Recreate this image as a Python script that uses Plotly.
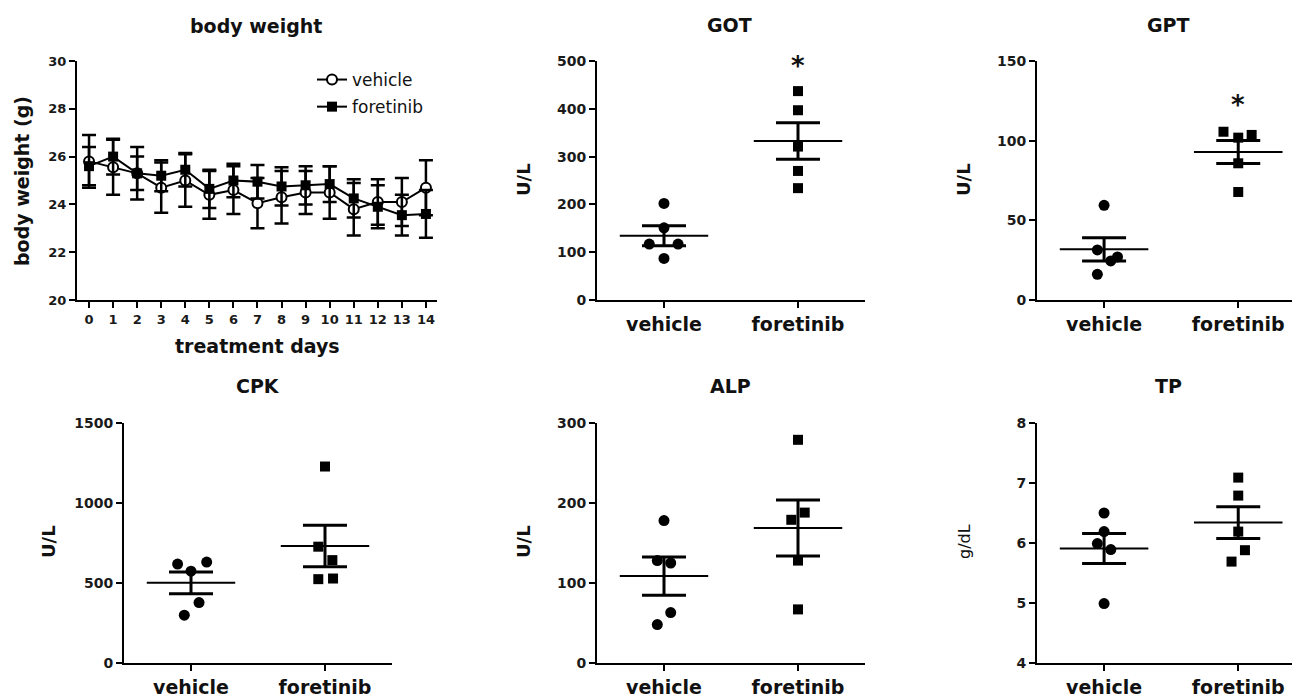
import plotly.graph_objects as go

W, H = 1300, 696
FONT = "DejaVu Sans"

# ---------------- data ----------------
days = list(range(15))
vehicle_bw = [25.8, 25.55, 25.3, 24.7, 25.0, 24.4, 24.6, 24.05, 24.3, 24.5, 24.5, 23.8, 24.1, 24.1, 24.7]
vehicle_bw_err = [1.1, 1.15, 1.1, 1.05, 1.1, 1.0, 1.0, 1.05, 1.1, 0.9, 1.1, 1.1, 0.95, 1.0, 1.15]
foretinib_bw = [25.6, 26.0, 25.3, 25.2, 25.45, 24.65, 25.0, 24.95, 24.75, 24.8, 24.85, 24.25, 23.9, 23.55, 23.6]
foretinib_bw_err = [0.8, 0.75, 0.7, 0.65, 0.7, 0.8, 0.7, 0.7, 0.8, 0.8, 0.75, 0.8, 0.9, 0.85, 1.0]

groups = ["vehicle", "foretinib"]

got_vehicle = [202, 151, 117, 117, 87]
got_foretinib = [437, 397, 321, 270, 234]
got_mean = [134.6, 332.6]
got_sem = [20.9, 38.0]

gpt_vehicle = [59.4, 31.4, 27.0, 24.5, 16.1]
gpt_foretinib = [105.6, 101.9, 103.6, 85.8, 67.8]
gpt_mean = [31.8, 92.9]
gpt_sem = [7.3, 7.2]

cpk_vehicle = [618, 631, 574, 378, 299]
cpk_foretinib = [1228, 727, 643, 524, 528]
cpk_mean = [501, 731]
cpk_sem = [68, 130]

alp_vehicle = [178, 128, 125, 63, 48]
alp_foretinib = [279, 179, 188, 128, 67]
alp_mean = [108.6, 168.8]
alp_sem = [24, 35]

tp_vehicle = [6.50, 6.19, 5.99, 5.89, 4.99]
tp_foretinib = [7.09, 6.79, 6.19, 5.88, 5.69]
tp_mean = [5.91, 6.34]
tp_sem = [0.25, 0.265]

# horizontal scatter offsets (layout only)
got_jit = ([0, 0, -0.11, 0.105, 0], [0, 0, 0, 0, 0])
gpt_jit = ([0, -0.05, 0.1, 0.05, -0.05], [-0.11, 0, 0.1, 0, 0])
cpk_jit = ([-0.1, 0.117, 0, 0.06, -0.05], [0, -0.05, 0.055, -0.05, 0.06])
alp_jit = ([0, -0.05, 0.05, 0.05, -0.05], [0, -0.05, 0.05, 0, 0])
tp_jit = ([0, 0, -0.05, 0.05, 0], [0, 0, 0, 0.05, -0.05])

# ---------------- helpers (screen px -> paper fraction) ----------------
OX, OY, PH = 8, 16, 680

def fx(p):
    return (p - OX) / W

def fy(p):
    return 1 - (p - OY) / PH

fig = go.Figure()

# body weight
fig.add_trace(go.Scatter(
    x=days, y=vehicle_bw, name="vehicle", mode="lines+markers",
    line=dict(color="black", width=2),
    marker=dict(symbol="circle", size=10, color="white", line=dict(color="black", width=2)),
    error_y=dict(type="data", array=vehicle_bw_err, color="black", thickness=2.5, width=7),
    xaxis="x", yaxis="y", legendgroup="v"))
fig.add_trace(go.Scatter(
    x=days, y=foretinib_bw, name="foretinib", mode="lines+markers",
    line=dict(color="black", width=2),
    marker=dict(symbol="square", size=10, color="black"),
    error_y=dict(type="data", array=foretinib_bw_err, color="black", thickness=2.5, width=7),
    xaxis="x", yaxis="y", legendgroup="f"))

panels = [
    (2, got_vehicle, got_foretinib, got_mean, got_sem, got_jit),
    (3, gpt_vehicle, gpt_foretinib, gpt_mean, gpt_sem, gpt_jit),
    (4, cpk_vehicle, cpk_foretinib, cpk_mean, cpk_sem, cpk_jit),
    (5, alp_vehicle, alp_foretinib, alp_mean, alp_sem, alp_jit),
    (6, tp_vehicle, tp_foretinib, tp_mean, tp_sem, tp_jit),
]

for k, veh, fore, means, sems, jit in panels:
    xa, ya = f"x{k}", f"y{k}"
    fig.add_trace(go.Scatter(
        x=[0 + j for j in jit[0]], y=veh, mode="markers",
        marker=dict(symbol="circle", size=11, color="black"),
        xaxis=xa, yaxis=ya, showlegend=False))
    fig.add_trace(go.Scatter(
        x=[1 + j for j in jit[1]], y=fore, mode="markers",
        marker=dict(symbol="square", size=10, color="black"),
        xaxis=xa, yaxis=ya, showlegend=False))
    for i, m in enumerate(means):
        fig.add_trace(go.Scatter(
            x=[i - 0.33, i + 0.33], y=[m, m], mode="lines",
            line=dict(color="black", width=2),
            xaxis=xa, yaxis=ya, showlegend=False))
    fig.add_trace(go.Scatter(
        x=[0, 1], y=means, mode="markers",
        marker=dict(size=2, color="rgba(0,0,0,0)"),
        error_y=dict(type="data", array=sems, color="black", thickness=3, width=22),
        xaxis=xa, yaxis=ya, showlegend=False))

# ---------------- axes ----------------
def yax(domain, rng, dtick, anchor, size=14):
    return dict(domain=domain, range=rng, dtick=dtick, anchor=anchor,
                showline=True, linecolor="black", linewidth=2,
                ticks="outside", ticklen=6, tickwidth=2, tickcolor="black",
                showgrid=False, zeroline=False,
                tickfont=dict(family=FONT, size=size, color="#1a1a1a", weight="bold"))

def xcat(domain, rng, anchor):
    return dict(domain=domain, range=rng, anchor=anchor,
                tickvals=[0, 1], ticktext=groups,
                showline=True, linecolor="black", linewidth=2,
                ticks="outside", ticklen=6, tickwidth=2, tickcolor="black",
                showgrid=False, zeroline=False,
                tickfont=dict(family=FONT, size=19, color="#111", weight="bold"))

top = [fy(300), fy(61)]
bot = [fy(663), fy(423)]

layout = dict(
    width=W, height=H,
    margin=dict(l=0, r=0, t=0, b=0),
    paper_bgcolor="white", plot_bgcolor="white",
    font=dict(family=FONT, color="black"),
    xaxis=dict(domain=[fx(77), fx(437)], range=[-0.5, 14.46], anchor="y",
               tickvals=days, showline=True, linecolor="black", linewidth=2,
               ticks="outside", ticklen=6, tickwidth=2, tickcolor="black",
               showgrid=False, zeroline=False,
               tickfont=dict(family=FONT, size=13, color="#1a1a1a", weight="bold")),
    yaxis=yax(top, [20, 30], 2, "x", size=13),
    xaxis2=xcat([fx(597), fx(865)], [-0.5, 1.5], "y2"),
    yaxis2=yax(top, [0, 500], 100, "x2"),
    xaxis3=xcat([fx(1037), 1.0], [-0.5, 1.52], "y3"),
    yaxis3=yax(top, [0, 150], 50, "x3"),
    xaxis4=xcat([fx(124), fx(392)], [-0.5, 1.5], "y4"),
    yaxis4=yax(bot, [0, 1500], 500, "x4"),
    xaxis5=xcat([fx(597), fx(865)], [-0.5, 1.5], "y5"),
    yaxis5=yax(bot, [0, 300], 100, "x5"),
    xaxis6=xcat([fx(1037), 1.0], [-0.5, 1.52], "y6"),
    yaxis6=yax(bot, [4, 8], 1, "x6"),
    legend=dict(x=fx(312), y=fy(62), xanchor="left", yanchor="top",
                font=dict(family=FONT, size=17, color="#111"),
                bgcolor="rgba(0,0,0,0)", tracegroupgap=2, itemwidth=30),
    showlegend=True,
)
fig.update_layout(**layout)

# ---------------- text ----------------
ann = []
titles = [("body weight", 256, 26), ("GOT", 729, 25), ("GPT", 1168, 25),
          ("CPK", 258, 386), ("ALP", 731, 386), ("TP", 1168, 386)]
for t, x, y in titles:
    ann.append(dict(text=f"<b>{t}</b>", x=fx(x), y=fy(y), xref="paper", yref="paper",
                    xanchor="center", yanchor="middle", showarrow=False,
                    font=dict(family=FONT, size=19, color="#111")))
ytitles = [("<b>body weight (g)</b>", 22, 181, 19), ("<b>U/L</b>", 523, 180, 18),
           ("<b>U/L</b>", 963, 180, 18), ("<b>U/L</b>", 48, 542, 18),
           ("<b>U/L</b>", 523, 542, 18), ("g/dL", 964, 542, 16)]
for t, x, y, s in ytitles:
    ann.append(dict(text=t, x=fx(x), y=fy(y), xref="paper", yref="paper",
                    xanchor="center", yanchor="middle", textangle=-90, showarrow=False,
                    font=dict(family=FONT, size=s, color="#111")))
ann.append(dict(text="<b>treatment days</b>", x=fx(257), y=fy(346), xref="paper", yref="paper",
                xanchor="center", yanchor="middle", showarrow=False,
                font=dict(family=FONT, size=19, color="#111")))
# significance marks
ann.append(dict(text="<b>*</b>", x=1, y=496, xref="x2", yref="y2", xanchor="center",
                yanchor="middle", yshift=-3, showarrow=False,
                font=dict(family=FONT, size=26, color="#111")))
ann.append(dict(text="<b>*</b>", x=1, y=124, xref="x3", yref="y3", xanchor="center",
                yanchor="middle", yshift=-3, showarrow=False,
                font=dict(family=FONT, size=26, color="#111")))
fig.update_layout(annotations=ann)

fig.write_html("out.html")
